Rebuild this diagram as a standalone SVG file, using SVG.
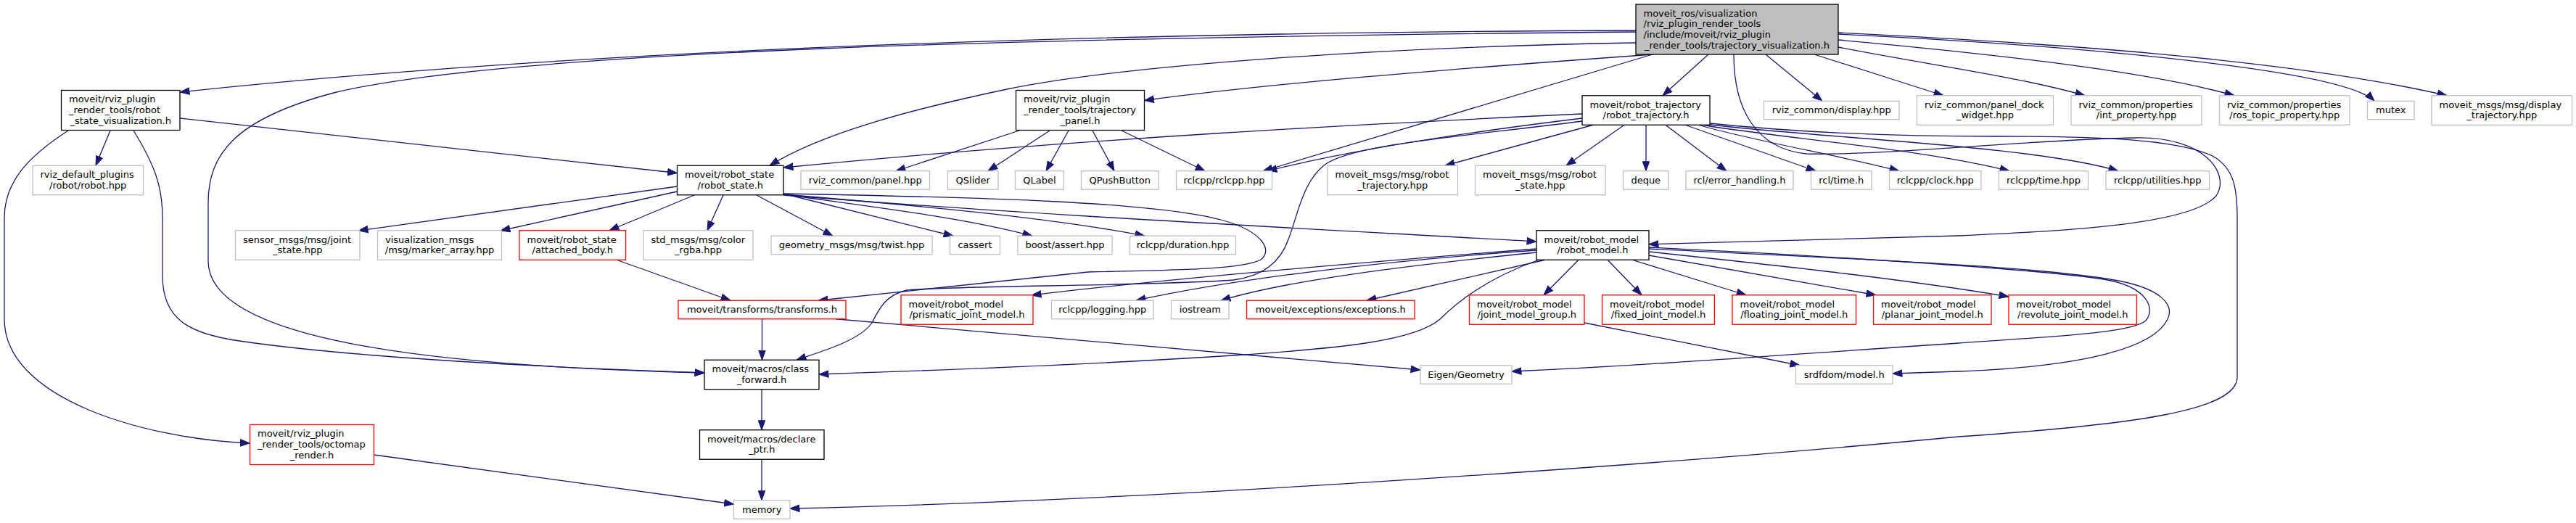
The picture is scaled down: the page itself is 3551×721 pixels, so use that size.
<svg xmlns="http://www.w3.org/2000/svg" width="3551" height="721" viewBox="0 0 3551 721">
<style>
rect{fill:#fff;stroke-width:1.3}
.k{stroke:#000}
.g{stroke:#bfbfbf}
.r{stroke:#ff0000}
.root{fill:#bfbfbf;stroke:#000}
text{font-family:"DejaVu Sans","Liberation Sans",sans-serif;font-size:13px;fill:#000}
.c{text-anchor:middle}
#edges path{fill:none;stroke:#191970;stroke-width:1.3;marker-end:url(#ah)}
</style>
<defs>
<marker id="ah" markerUnits="userSpaceOnUse" markerWidth="14" markerHeight="12" viewBox="0 -6 13 12" refX="13" refY="0" orient="auto">
<path d="M0,-4.7L13,0L0,4.7z" fill="#191970" stroke="#191970" stroke-width="1"/>
</marker>
</defs>
<rect x="0" y="0" width="3551" height="721" style="fill:#fff;stroke:none"/>
<g id="edges">
<path d="M2255,42 C1700,44 900,58 248,127"/>
<path d="M2255,44 C1400,52 700,70 460,128 C320,165 287,215 287,280 L287,360 C287,470 600,505 971,514"/>
<path d="M2255,59 C1900,65 1550,90 1388,123 C1250,152 1130,185 1061,228.25"/>
<path d="M2279,75 C2000,95 1750,115 1577.5,138.5"/>
<path d="M2278,75 L1741,235.75"/>
<path d="M2355,75 L2292,131.75"/>
<path d="M2434,75 L2512,139.25"/>
<path d="M2501,75 L2679,131.75"/>
<path d="M2534,65 C2650,88 2780,105 2874,131.75"/>
<path d="M2534,55 C2700,70 2950,95 3080,131.75"/>
<path d="M2534,47 C2850,62 3230,95 3273,139.25"/>
<path d="M2534,45 C2800,58 3150,80 3373,131.75"/>
<path d="M2390,75 C2390,150 2420,205 2490,212 C2600,215 2800,192 2944,190 C3040,188 3075,240 3055,270 C3020,310 2850,318 2700,325 C2500,331 2350,335 2273,336.7"/>
<path d="M2181,157 C1900,170 1500,190 1080,231"/>
<path d="M2181,163 C2000,185 1850,210 1747,235.75"/>
<path d="M2181,167 C2000,190 1860,200 1825,228 C1795,252 1788,300 1776,330 C1765,362 1740,381 1700,386 C1600,394 1300,394 1250,400 C1222,406 1212,425 1202,445 C1185,470 1130,485 1098,496.25"/>
<path d="M2196,172.25 L1992,228.25"/>
<path d="M2239,172.25 L2159,228.25"/>
<path d="M2269,172.25 L2269,235.75"/>
<path d="M2296,172.25 L2380,235.75"/>
<path d="M2323,172.25 L2503,235.75"/>
<path d="M2340,172 C2420,195 2540,215 2618,235.75"/>
<path d="M2345,172 C2450,190 2650,205 2770,235.75"/>
<path d="M2350,171 C2500,190 2800,200 2920,235.75"/>
<path d="M2357,170 C2500,185 2650,188 2750,188 C2900,188 3000,192 3050,215 C3080,232 3084,260 3084,300 L3084,520 C3084,565 2950,585 2700,602 C2300,640 1600,690 1089,701"/>
<path d="M248,163 L933.5,238.5"/>
<path d="M152,180 L132,228.25"/>
<path d="M94,180 C40,215 6,250 6,300 L6,440 C6,550 200,605 344.5,611"/>
<path d="M184,180 C215,230 224,260 224,300 L224,380 C224,440 260,460 330,470 C500,495 800,508 971,514"/>
<path d="M515.5,627 L1011.5,695"/>
<path d="M1405,180 L1235,235.75"/>
<path d="M1447,180 L1362,235.75"/>
<path d="M1473,180 L1442,235.75"/>
<path d="M1506,180 L1536,235.75"/>
<path d="M1546,180 L1661,235.75"/>
<path d="M933.5,257 L494,318"/>
<path d="M933.5,264 L690,318"/>
<path d="M957,269 L840,317.75"/>
<path d="M997,269 L975,317.75"/>
<path d="M1043,269 L1148,325.25"/>
<path d="M1080,267 L1314,325.25"/>
<path d="M1080,268 C1200,285 1330,300 1423,325.25"/>
<path d="M1080,268 C1250,282 1450,300 1578,325.25"/>
<path d="M1080,269 C1400,295 1800,315 2118,333"/>
<path d="M1080,267 C1350,272 1600,278 1690,305 C1740,320 1755,345 1738,358 C1715,370 1650,372 1500,375 L1128,414.25"/>
<path d="M850,358.25 L1007,414.25"/>
<path d="M1050.5,439.75 L1050.5,496.25"/>
<path d="M1152,439.75 L1958,510"/>
<path d="M1050,536.75 L1050,592.75"/>
<path d="M1050,633.25 L1050,689.75"/>
<path d="M2118,343 C1900,360 1600,385 1422,407"/>
<path d="M2118,345 C1900,360 1700,385 1566,414.25"/>
<path d="M2118,348 C1950,365 1780,385 1683,414.25"/>
<path d="M2130,358.25 L1884,414.25"/>
<path d="M2121,358.25 C2060,380 2015,410 1985,440 C1950,470 1850,480 1700,490 C1500,503 1250,512 1129,516"/>
<path d="M2176,358.25 L2128,406.75"/>
<path d="M2216,358.25 L2263,406.75"/>
<path d="M2250,358.25 L2407,406.75"/>
<path d="M2273,352 L2586,406.75"/>
<path d="M2273,347 C2450,366 2620,384 2769,409"/>
<path d="M2273,341 C2500,352 2800,370 2900,385 C2960,395 2972,425 2958,442 C2940,458 2850,463 2700,473 C2450,490 2250,505 2084,512"/>
<path d="M2273,343 C2500,355 2800,365 2920,387 C2978,398 2998,420 2988,440 C2970,478 2880,505 2700,512 L2609,515"/>
<path d="M2184,445 L2481,503.75"/>
</g>
<g id="n_root"><rect class="root" x="2255" y="6" width="279" height="69"/>
<text x="2265.5" y="22.5">moveit_ros/visualization</text><text x="2265.5" y="37.2">/rviz_plugin_render_tools</text><text x="2265.5" y="51.9">/include/moveit/rviz_plugin</text><text class="c" x="2394.5" y="66.6">_render_tools/trajectory_visualization.h</text></g>
<g id="n_rsv"><rect class="k" x="84.5" y="124.5" width="163.5" height="55"/>
<text x="95" y="141.3">moveit/rviz_plugin</text><text x="95" y="156">_render_tools/robot</text><text class="c" x="166.25" y="170.7">_state_visualization.h</text></g>
<g id="n_traj_panel"><rect class="k" x="1400.5" y="124.5" width="177" height="55"/>
<text x="1411" y="141.3">moveit/rviz_plugin</text><text x="1411" y="156">_render_tools/trajectory</text><text class="c" x="1489" y="170.7">_panel.h</text></g>
<g id="n_robot_trajectory"><rect class="k" x="2181" y="131.75" width="176" height="40.5"/>
<text x="2191.5" y="148.65">moveit/robot_trajectory</text><text class="c" x="2269" y="163.35">/robot_trajectory.h</text></g>
<g id="n_display"><rect class="g" x="2431.5" y="139.25" width="186.5" height="25.5"/><text class="c" x="2524.75" y="156">rviz_common/display.hpp</text></g>
<g id="n_panel_dock"><rect class="g" x="2642.5" y="131.75" width="188" height="40.5"/>
<text x="2653" y="148.65">rviz_common/panel_dock</text><text class="c" x="2736.5" y="163.35">_widget.hpp</text></g>
<g id="n_int_property"><rect class="g" x="2855" y="131.75" width="180" height="40.5"/>
<text x="2865.5" y="148.65">rviz_common/properties</text><text class="c" x="2945" y="163.35">/int_property.hpp</text></g>
<g id="n_ros_topic"><rect class="g" x="3059.5" y="131.75" width="179.5" height="40.5"/>
<text x="3070" y="148.65">rviz_common/properties</text><text class="c" x="3149.25" y="163.35">/ros_topic_property.hpp</text></g>
<g id="n_mutex"><rect class="g" x="3263.5" y="139.25" width="64.5" height="25.5"/><text class="c" x="3295.75" y="156">mutex</text></g>
<g id="n_display_traj"><rect class="g" x="3352" y="131.75" width="193.5" height="40.5"/>
<text x="3362.5" y="148.65">moveit_msgs/msg/display</text><text class="c" x="3448.75" y="163.35">_trajectory.hpp</text></g>
<g id="n_rviz_default"><rect class="g" x="45" y="228.25" width="152.5" height="40.5"/>
<text x="55.5" y="245.15">rviz_default_plugins</text><text class="c" x="121.25" y="259.85">/robot/robot.hpp</text></g>
<g id="n_robot_state"><rect class="k" x="933.5" y="228.25" width="146.5" height="40.5"/>
<text x="944" y="245.15">moveit/robot_state</text><text class="c" x="1006.75" y="259.85">/robot_state.h</text></g>
<g id="n_panel"><rect class="g" x="1104" y="235.75" width="177.5" height="25.5"/><text class="c" x="1192.75" y="252.5">rviz_common/panel.hpp</text></g>
<g id="n_qslider"><rect class="g" x="1306.5" y="235.75" width="69.5" height="25.5"/><text class="c" x="1341.25" y="252.5">QSlider</text></g>
<g id="n_qlabel"><rect class="g" x="1399.5" y="235.75" width="67" height="25.5"/><text class="c" x="1433" y="252.5">QLabel</text></g>
<g id="n_qpushbutton"><rect class="g" x="1490.5" y="235.75" width="106.5" height="25.5"/><text class="c" x="1543.75" y="252.5">QPushButton</text></g>
<g id="n_rclcpp"><rect class="g" x="1621.5" y="235.75" width="132" height="25.5"/><text class="c" x="1687.5" y="252.5">rclcpp/rclcpp.hpp</text></g>
<g id="n_mm_robot_trajectory"><rect class="g" x="1830" y="228.25" width="179.5" height="40.5"/>
<text x="1840.5" y="245.15">moveit_msgs/msg/robot</text><text class="c" x="1919.75" y="259.85">_trajectory.hpp</text></g>
<g id="n_mm_robot_state"><rect class="g" x="2033.5" y="228.25" width="179.5" height="40.5"/>
<text x="2044" y="245.15">moveit_msgs/msg/robot</text><text class="c" x="2123.25" y="259.85">_state.hpp</text></g>
<g id="n_deque"><rect class="g" x="2237.5" y="235.75" width="62.5" height="25.5"/><text class="c" x="2268.75" y="252.5">deque</text></g>
<g id="n_error_handling"><rect class="g" x="2324" y="235.75" width="148" height="25.5"/><text class="c" x="2398" y="252.5">rcl/error_handling.h</text></g>
<g id="n_rcl_time"><rect class="g" x="2496.5" y="235.75" width="83.5" height="25.5"/><text class="c" x="2538.25" y="252.5">rcl/time.h</text></g>
<g id="n_clock"><rect class="g" x="2604.5" y="235.75" width="126.5" height="25.5"/><text class="c" x="2667.75" y="252.5">rclcpp/clock.hpp</text></g>
<g id="n_rclcpp_time"><rect class="g" x="2755.5" y="235.75" width="123" height="25.5"/><text class="c" x="2817" y="252.5">rclcpp/time.hpp</text></g>
<g id="n_utilities"><rect class="g" x="2903" y="235.75" width="142.5" height="25.5"/><text class="c" x="2974.25" y="252.5">rclcpp/utilities.hpp</text></g>
<g id="n_joint_state"><rect class="g" x="324.5" y="317.75" width="171.5" height="40.5"/>
<text x="335" y="334.65">sensor_msgs/msg/joint</text><text class="c" x="410.25" y="349.35">_state.hpp</text></g>
<g id="n_marker_array"><rect class="g" x="520.5" y="317.75" width="171" height="40.5"/>
<text x="531" y="334.65">visualization_msgs</text><text class="c" x="606" y="349.35">/msg/marker_array.hpp</text></g>
<g id="n_attached_body"><rect class="r" x="716" y="317.75" width="146.5" height="40.5"/>
<text x="726.5" y="334.65">moveit/robot_state</text><text class="c" x="789.25" y="349.35">/attached_body.h</text></g>
<g id="n_color_rgba"><rect class="g" x="887" y="317.75" width="151" height="40.5"/>
<text x="897.5" y="334.65">std_msgs/msg/color</text><text class="c" x="962.5" y="349.35">_rgba.hpp</text></g>
<g id="n_twist"><rect class="g" x="1063" y="325.25" width="222" height="25.5"/><text class="c" x="1174" y="342">geometry_msgs/msg/twist.hpp</text></g>
<g id="n_cassert"><rect class="g" x="1309.5" y="325.25" width="69" height="25.5"/><text class="c" x="1344" y="342">cassert</text></g>
<g id="n_boost_assert"><rect class="g" x="1403" y="325.25" width="130" height="25.5"/><text class="c" x="1468" y="342">boost/assert.hpp</text></g>
<g id="n_duration"><rect class="g" x="1557.5" y="325.25" width="146" height="25.5"/><text class="c" x="1630.5" y="342">rclcpp/duration.hpp</text></g>
<g id="n_robot_model"><rect class="k" x="2118" y="317.75" width="155" height="40.5"/>
<text x="2128.5" y="334.65">moveit/robot_model</text><text class="c" x="2195.5" y="349.35">/robot_model.h</text></g>
<g id="n_transforms"><rect class="r" x="935" y="414.25" width="231" height="25.5"/><text class="c" x="1050.5" y="431">moveit/transforms/transforms.h</text></g>
<g id="n_prismatic"><rect class="r" x="1242" y="406.75" width="182" height="40.5"/>
<text x="1252.5" y="423.65">moveit/robot_model</text><text class="c" x="1333" y="438.35">/prismatic_joint_model.h</text></g>
<g id="n_logging"><rect class="g" x="1449.5" y="414.25" width="140.5" height="25.5"/><text class="c" x="1519.75" y="431">rclcpp/logging.hpp</text></g>
<g id="n_iostream"><rect class="g" x="1614.5" y="414.25" width="79.5" height="25.5"/><text class="c" x="1654.25" y="431">iostream</text></g>
<g id="n_exceptions"><rect class="r" x="1718.5" y="414.25" width="231.5" height="25.5"/><text class="c" x="1834.25" y="431">moveit/exceptions/exceptions.h</text></g>
<g id="n_joint_model_group"><rect class="r" x="2025.5" y="406.75" width="158.5" height="40.5"/>
<text x="2036" y="423.65">moveit/robot_model</text><text class="c" x="2104.75" y="438.35">/joint_model_group.h</text></g>
<g id="n_fixed"><rect class="r" x="2208.5" y="406.75" width="155" height="40.5"/>
<text x="2219" y="423.65">moveit/robot_model</text><text class="c" x="2286" y="438.35">/fixed_joint_model.h</text></g>
<g id="n_floating"><rect class="r" x="2388" y="406.75" width="170.5" height="40.5"/>
<text x="2398.5" y="423.65">moveit/robot_model</text><text class="c" x="2473.25" y="438.35">/floating_joint_model.h</text></g>
<g id="n_planar"><rect class="r" x="2582.5" y="406.75" width="162.5" height="40.5"/>
<text x="2593" y="423.65">moveit/robot_model</text><text class="c" x="2663.75" y="438.35">/planar_joint_model.h</text></g>
<g id="n_revolute"><rect class="r" x="2769" y="406.75" width="176.5" height="40.5"/>
<text x="2779.5" y="423.65">moveit/robot_model</text><text class="c" x="2857.25" y="438.35">/revolute_joint_model.h</text></g>
<g id="n_class_forward"><rect class="k" x="971" y="496.25" width="158" height="40.5"/>
<text x="981.5" y="513.15">moveit/macros/class</text><text class="c" x="1050" y="527.85">_forward.h</text></g>
<g id="n_eigen"><rect class="g" x="1958" y="503.75" width="126" height="25.5"/><text class="c" x="2021" y="520.5">Eigen/Geometry</text></g>
<g id="n_srdfdom"><rect class="g" x="2475.5" y="503.75" width="133.5" height="25.5"/><text class="c" x="2542.25" y="520.5">srdfdom/model.h</text></g>
<g id="n_octomap"><rect class="r" x="344.5" y="585.5" width="171" height="55"/>
<text x="355" y="602.3">moveit/rviz_plugin</text><text x="355" y="617">_render_tools/octomap</text><text class="c" x="430" y="631.7">_render.h</text></g>
<g id="n_declare_ptr"><rect class="k" x="964.5" y="592.75" width="171.5" height="40.5"/>
<text x="975" y="609.65">moveit/macros/declare</text><text class="c" x="1050.25" y="624.35">_ptr.h</text></g>
<g id="n_memory"><rect class="g" x="1011.5" y="689.75" width="77.5" height="25.5"/><text class="c" x="1050.25" y="706.5">memory</text></g>
</svg>
